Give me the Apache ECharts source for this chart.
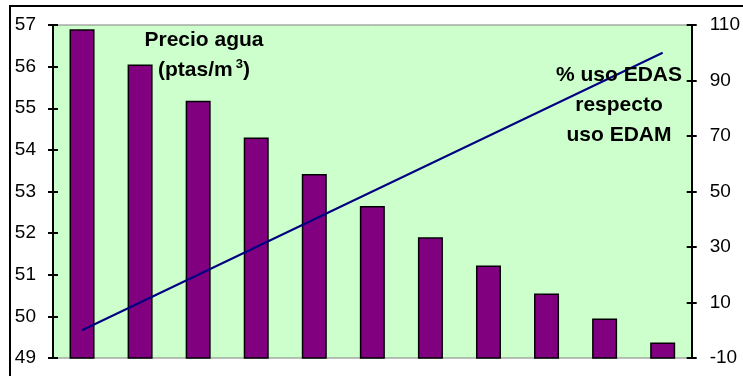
<!DOCTYPE html>
<html>
<head>
<meta charset="utf-8">
<script src="https://cdn.jsdelivr.net/npm/echarts@6/dist/echarts.min.js"></script>
<style>
  html, body { margin: 0; padding: 0; background: #fff; }
  #main { width: 743px; height: 376px; }
</style>
</head>
<body>
<div id="main"></div>
<script>
// datos
var categorias = ['1', '2', '3', '4', '5', '6', '7', '8', '9', '10', '11'];
var precioAgua = [56.9, 56.05, 55.18, 54.3, 53.42, 52.65, 51.9, 51.22, 50.55, 49.95, 49.37];
var usoEdas = [0, 10, 20, 30, 40, 50, 60, 70, 80, 90, 100];
var ticksIzq = { min: 49, max: 57, interval: 1 };
var ticksDer = { min: -10, max: 110, interval: 20 };

var myChart = echarts.init(document.getElementById('main'));
var fuente = '"Liberation Sans", Arial, sans-serif';

var option = {
  animation: false,
  backgroundColor: '#ffffff',
  textStyle: { fontFamily: fuente },
  grid: {
    left: 53, right: 50, top: 25, bottom: 18,
    show: true,
    backgroundColor: '#CCFFCC',
    borderColor: '#808080',
    borderWidth: 1
  },
  title: [
    {
      text: 'Precio agua\n{b|(ptas/m}{s|3}{b|)}',
      left: 204, top: 25, textAlign: 'center', padding: 0,
      textStyle: {
        fontFamily: fuente, fontSize: 21, fontWeight: 'bold', color: '#000',
        lineHeight: 30,
        rich: {
          b: { fontFamily: fuente, fontSize: 21, fontWeight: 'bold', color: '#000', lineHeight: 30 },
          s: { fontFamily: fuente, fontSize: 13, fontWeight: 'bold', color: '#000', lineHeight: 30, padding: [0, 0, 12, 3] }
        }
      }
    },
    {
      text: '% uso EDAS\nrespecto\nuso EDAM',
      left: 619, top: 60, textAlign: 'center', padding: 0,
      textStyle: { fontFamily: fuente, fontSize: 21, fontWeight: 'bold', color: '#000', lineHeight: 30 }
    }
  ],
  xAxis: {
    type: 'category',
    data: categorias,
    axisLine: { show: false },
    axisTick: { show: false },
    axisLabel: { show: false }
  },
  yAxis: [
    {
      type: 'value', position: 'left',
      min: ticksIzq.min, max: ticksIzq.max, interval: ticksIzq.interval,
      axisLine: { show: true, lineStyle: { color: '#000', width: 2 } },
      axisTick: { show: true, length: 5, lineStyle: { color: '#000', width: 2 } },
      axisLabel: { margin: 17, fontSize: 19, color: '#000', fontFamily: fuente },
      splitLine: { show: false }
    },
    {
      type: 'value', position: 'right',
      min: ticksDer.min, max: ticksDer.max, interval: ticksDer.interval,
      axisLine: { show: true, lineStyle: { color: '#000', width: 2 } },
      axisTick: { show: true, length: 5, lineStyle: { color: '#000', width: 2 } },
      axisLabel: { margin: 18, fontSize: 19, color: '#000', fontFamily: fuente },
      splitLine: { show: false }
    },
    // copias solo para que las marcas crucen el eje
    {
      type: 'value', position: 'left',
      min: ticksIzq.min, max: ticksIzq.max, interval: ticksIzq.interval,
      axisLine: { show: false },
      axisTick: { show: true, inside: true, length: 5, lineStyle: { color: '#000', width: 2 } },
      axisLabel: { show: false },
      splitLine: { show: false }
    },
    {
      type: 'value', position: 'right',
      min: ticksDer.min, max: ticksDer.max, interval: ticksDer.interval,
      axisLine: { show: false },
      axisTick: { show: true, inside: true, length: 5, lineStyle: { color: '#000', width: 2 } },
      axisLabel: { show: false },
      splitLine: { show: false }
    }
  ],
  series: [
    {
      name: 'Precio agua',
      type: 'bar',
      yAxisIndex: 0,
      barWidth: 25,
      data: precioAgua,
      itemStyle: { color: '#800080', borderColor: '#000', borderWidth: 1.5 }
    },
    {
      name: '% uso EDAS respecto uso EDAM',
      type: 'line',
      yAxisIndex: 1,
      data: usoEdas,
      symbol: 'none',
      lineStyle: { color: '#000080', width: 2 }
    }
  ],
  graphic: [
    {
      type: 'rect',
      shape: { x: 10, y: 6, width: 760, height: 400 },
      style: { fill: 'none', stroke: '#000', lineWidth: 2 },
      silent: true,
      z: 100
    }
  ]
};
myChart.setOption(option);
</script>
</body>
</html>
